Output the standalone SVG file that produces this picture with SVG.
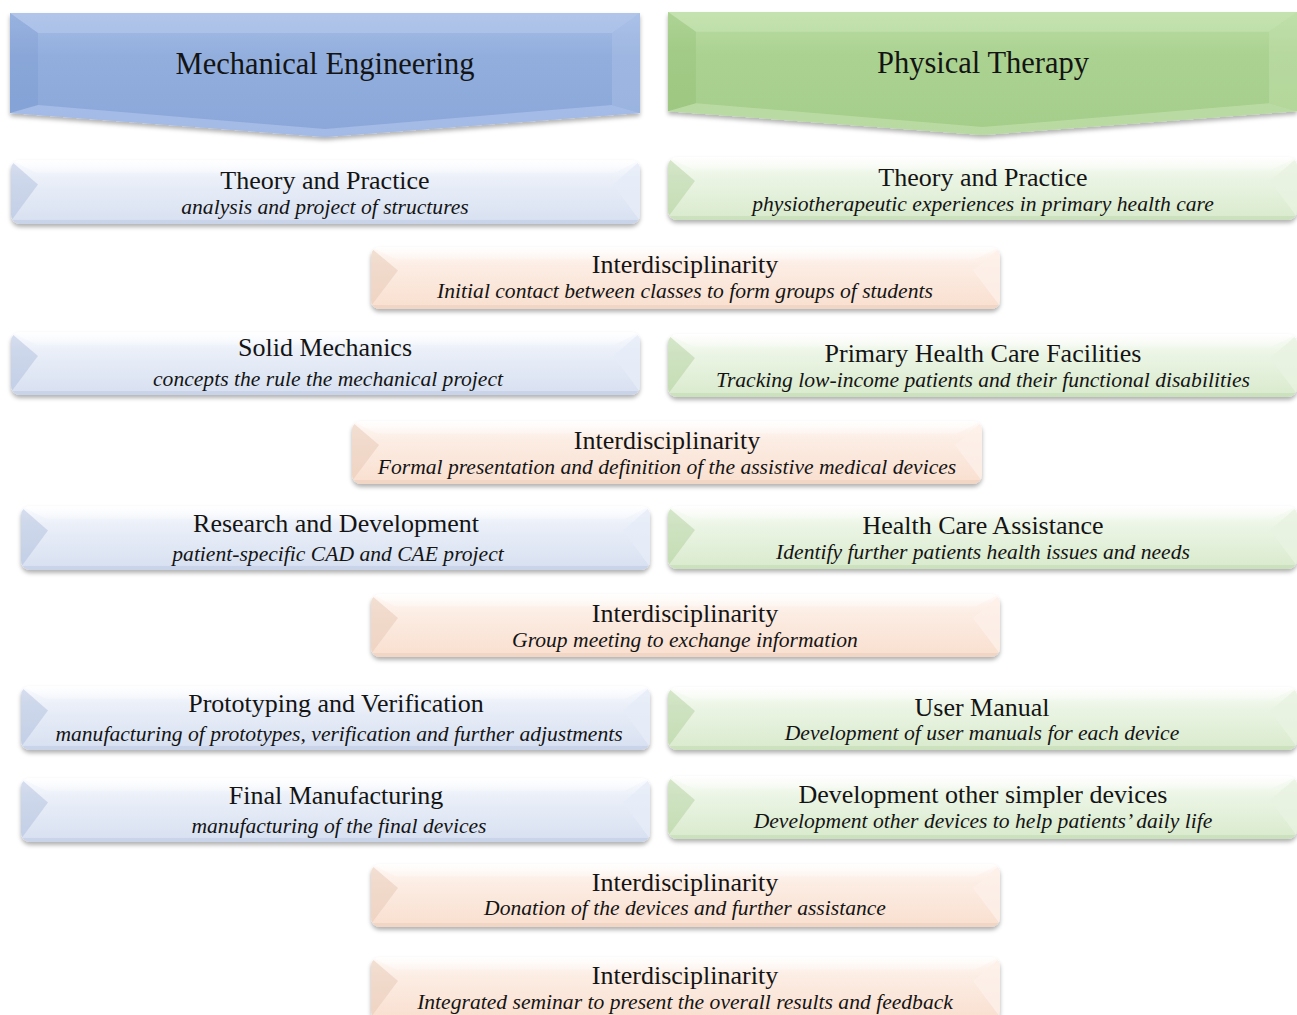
<svg xmlns="http://www.w3.org/2000/svg" xmlns:xlink="http://www.w3.org/1999/xlink" width="1297" height="1015" viewBox="0 0 1297 1015">
  <defs>
    <style>
      text { font-family: "Liberation Serif", "Times New Roman", serif; fill: #141414; text-anchor: middle; }
      .hd { font-size: 30.5px; }
      .tt { font-size: 26px; }
      .st { font-size: 21.6px; font-style: italic; }
      .sh { filter: url(#shadow); }
    </style>

    <filter id="shadow" x="-5%" y="-20%" width="110%" height="150%">
      <feDropShadow dx="0" dy="3" stdDeviation="2.2" flood-color="#000" flood-opacity="0.3"/>
    </filter>

    <!-- face gradients -->
    <linearGradient id="gBlueHd" x1="0" y1="0" x2="0" y2="1">
      <stop offset="0" stop-color="#a6bde6"/>
      <stop offset="0.35" stop-color="#92aedd"/>
      <stop offset="1" stop-color="#8ba7da"/>
    </linearGradient>
    <linearGradient id="gGreenHd" x1="0" y1="0" x2="0" y2="1">
      <stop offset="0" stop-color="#bbdda4"/>
      <stop offset="0.35" stop-color="#abd291"/>
      <stop offset="1" stop-color="#a5cd8a"/>
    </linearGradient>
    <linearGradient id="gBlue" x1="0" y1="0" x2="0" y2="1">
      <stop offset="0" stop-color="#fbfcff"/>
      <stop offset="0.3" stop-color="#eaeff8"/>
      <stop offset="1" stop-color="#d7e0f1"/>
    </linearGradient>
    <linearGradient id="gGreen" x1="0" y1="0" x2="0" y2="1">
      <stop offset="0" stop-color="#fbfdf9"/>
      <stop offset="0.3" stop-color="#ecf5e6"/>
      <stop offset="1" stop-color="#d8eacc"/>
    </linearGradient>
    <linearGradient id="gOrange" x1="0" y1="0" x2="0" y2="1">
      <stop offset="0" stop-color="#fffaf7"/>
      <stop offset="0.3" stop-color="#fcede4"/>
      <stop offset="1" stop-color="#f9dfcf"/>
    </linearGradient>

    <!-- bevel shading -->
    <linearGradient id="topHi" x1="0" y1="0" x2="0" y2="1">
      <stop offset="0" stop-color="#fff" stop-opacity="0.85"/>
      <stop offset="1" stop-color="#fff" stop-opacity="0.15"/>
    </linearGradient>

    <clipPath id="boxClip">
      <rect x="0" y="0" width="630" height="63" rx="9"/>
    </clipPath>

    <!-- bevelled step box, one per colour -->
    <symbol id="box-blue" viewBox="0 0 630 63" preserveAspectRatio="none">
      <g clip-path="url(#boxClip)">
        <rect width="630" height="63" fill="url(#gBlue)"/>
        <polygon points="0,0 630,0 604,13 26,13" fill="url(#topHi)"/>
        <polygon points="0,1 27,24 0,60" fill="#a3b5d8" fill-opacity="0.4"/>
        <polygon points="630,1 603,24 630,60" fill="#e6ecf7" fill-opacity="0.8"/>
        <rect y="59" width="630" height="4" fill="#b8c6e0" fill-opacity="0.45"/>
      </g>
    </symbol>
    <symbol id="box-green" viewBox="0 0 630 63" preserveAspectRatio="none">
      <g clip-path="url(#boxClip)">
        <rect width="630" height="63" fill="url(#gGreen)"/>
        <polygon points="0,0 630,0 604,13 26,13" fill="url(#topHi)"/>
        <polygon points="0,1 27,24 0,60" fill="#aacb95" fill-opacity="0.45"/>
        <polygon points="630,1 603,24 630,60" fill="#e9f3e1" fill-opacity="0.8"/>
        <rect y="59" width="630" height="4" fill="#bcd6ab" fill-opacity="0.45"/>
      </g>
    </symbol>
    <symbol id="box-orange" viewBox="0 0 630 63" preserveAspectRatio="none">
      <g clip-path="url(#boxClip)">
        <rect width="630" height="63" fill="url(#gOrange)"/>
        <polygon points="0,0 630,0 604,13 26,13" fill="url(#topHi)"/>
        <polygon points="0,1 27,24 0,60" fill="#e6c7b4" fill-opacity="0.5"/>
        <polygon points="630,1 603,24 630,60" fill="#fdf0e8" fill-opacity="0.8"/>
        <rect y="59" width="630" height="4" fill="#e6c9b7" fill-opacity="0.45"/>
      </g>
    </symbol>

    <!-- bevelled downward chevron for the column headers -->
    <symbol id="head-blue" viewBox="0 0 630 124" preserveAspectRatio="none">
      <polygon points="0,0 630,0 630,100 315,124 0,100" fill="url(#gBlueHd)"/>
      <polygon points="0,0 630,0 602,20 28,20" fill="#c3d3f0" fill-opacity="0.4"/>
      <polygon points="0,0 28,20 28,92 0,100" fill="#6f8fc8" fill-opacity="0.22"/>
      <polygon points="630,0 602,20 602,92 630,100" fill="#b5c8ec" fill-opacity="0.35"/>
      <polygon points="0,100 28,92 315,116 602,92 630,100 315,124" fill="#b7cbee" fill-opacity="0.55"/>
    </symbol>
    <symbol id="head-green" viewBox="0 0 630 124" preserveAspectRatio="none">
      <polygon points="0,0 630,0 630,100 315,124 0,100" fill="url(#gGreenHd)"/>
      <polygon points="0,0 630,0 602,20 28,20" fill="#d2ebc1" fill-opacity="0.4"/>
      <polygon points="0,0 28,20 28,92 0,100" fill="#7fb35f" fill-opacity="0.22"/>
      <polygon points="630,0 602,20 602,92 630,100" fill="#c8e4b5" fill-opacity="0.4"/>
      <polygon points="0,100 28,92 315,116 602,92 630,100 315,124" fill="#c9e5b6" fill-opacity="0.55"/>
    </symbol>
  </defs>

  <rect width="1297" height="1015" fill="#ffffff"/>

  <!-- column headers -->
  <g id="mechanical-engineering">
    <use class="sh" href="#head-blue" x="10" y="13" width="630" height="124"/>
    <text class="hd" x="325" y="74">Mechanical Engineering</text>
  </g>
  <g id="physical-therapy">
    <use class="sh" href="#head-green" x="668" y="12" width="629" height="123"/>
    <text class="hd" x="983" y="73">Physical Therapy</text>
  </g>

  <!-- Mechanical Engineering steps -->
  <g id="me-theory-practice">
    <use class="sh" href="#box-blue" x="11" y="160" width="629" height="64"/>
    <text class="tt" x="325" y="189">Theory and Practice</text>
    <text class="st" x="325" y="214">analysis and project of structures</text>
  </g>
  <g id="me-solid-mechanics">
    <use class="sh" href="#box-blue" x="11" y="332" width="629" height="63"/>
    <text class="tt" x="325" y="356">Solid Mechanics</text>
    <text class="st" x="328" y="386">concepts the rule the mechanical project</text>
  </g>
  <g id="me-research-development">
    <use class="sh" href="#box-blue" x="21" y="506" width="629" height="64"/>
    <text class="tt" x="336" y="532">Research and Development</text>
    <text class="st" x="338" y="561">patient-specific CAD and CAE project</text>
  </g>
  <g id="me-prototyping-verification">
    <use class="sh" href="#box-blue" x="21" y="686" width="629" height="64"/>
    <text class="tt" x="336" y="712">Prototyping and Verification</text>
    <text class="st" x="339" y="741">manufacturing of prototypes, verification and further adjustments</text>
  </g>
  <g id="me-final-manufacturing">
    <use class="sh" href="#box-blue" x="21" y="778" width="629" height="64"/>
    <text class="tt" x="336" y="804">Final Manufacturing</text>
    <text class="st" x="339" y="833">manufacturing of the final devices</text>
  </g>

  <!-- Physical Therapy steps -->
  <g id="pt-theory-practice">
    <use class="sh" href="#box-green" x="668" y="157" width="629" height="63"/>
    <text class="tt" x="983" y="186">Theory and Practice</text>
    <text class="st" x="983" y="211">physiotherapeutic experiences in primary health care</text>
  </g>
  <g id="pt-primary-health-care">
    <use class="sh" href="#box-green" x="668" y="334" width="629" height="63"/>
    <text class="tt" x="983" y="362">Primary Health Care Facilities</text>
    <text class="st" x="983" y="387">Tracking low-income patients and their functional disabilities</text>
  </g>
  <g id="pt-health-care-assistance">
    <use class="sh" href="#box-green" x="668" y="506" width="629" height="63"/>
    <text class="tt" x="983" y="534">Health Care Assistance</text>
    <text class="st" x="983" y="559">Identify further patients health issues and needs</text>
  </g>
  <g id="pt-user-manual">
    <use class="sh" href="#box-green" x="668" y="687" width="629" height="63"/>
    <text class="tt" x="982" y="716">User Manual</text>
    <text class="st" x="982" y="740">Development of user manuals for each device</text>
  </g>
  <g id="pt-simpler-devices">
    <use class="sh" href="#box-green" x="668" y="776" width="629" height="63"/>
    <text class="tt" x="983" y="803">Development other simpler devices</text>
    <text class="st" x="983" y="828">Development other devices to help patients’ daily life</text>
  </g>

  <!-- shared interdisciplinary stages -->
  <g id="interdisciplinarity-1">
    <use class="sh" href="#box-orange" x="371" y="247" width="629" height="62"/>
    <text class="tt" x="685" y="273">Interdisciplinarity</text>
    <text class="st" x="685" y="298">Initial contact between classes to form groups of students</text>
  </g>
  <g id="interdisciplinarity-2">
    <use class="sh" href="#box-orange" x="352" y="421" width="630" height="63"/>
    <text class="tt" x="667" y="449">Interdisciplinarity</text>
    <text class="st" x="667" y="474">Formal presentation and definition of the assistive medical devices</text>
  </g>
  <g id="interdisciplinarity-3">
    <use class="sh" href="#box-orange" x="371" y="594" width="629" height="63"/>
    <text class="tt" x="685" y="622">Interdisciplinarity</text>
    <text class="st" x="685" y="647">Group meeting to exchange information</text>
  </g>
  <g id="interdisciplinarity-4">
    <use class="sh" href="#box-orange" x="371" y="864" width="629" height="63"/>
    <text class="tt" x="685" y="891">Interdisciplinarity</text>
    <text class="st" x="685" y="915">Donation of the devices and further assistance</text>
  </g>
  <g id="interdisciplinarity-5">
    <use class="sh" href="#box-orange" x="371" y="957" width="629" height="63"/>
    <text class="tt" x="685" y="984">Interdisciplinarity</text>
    <text class="st" x="685" y="1009">Integrated seminar to present the overall results and feedback</text>
  </g>
</svg>
